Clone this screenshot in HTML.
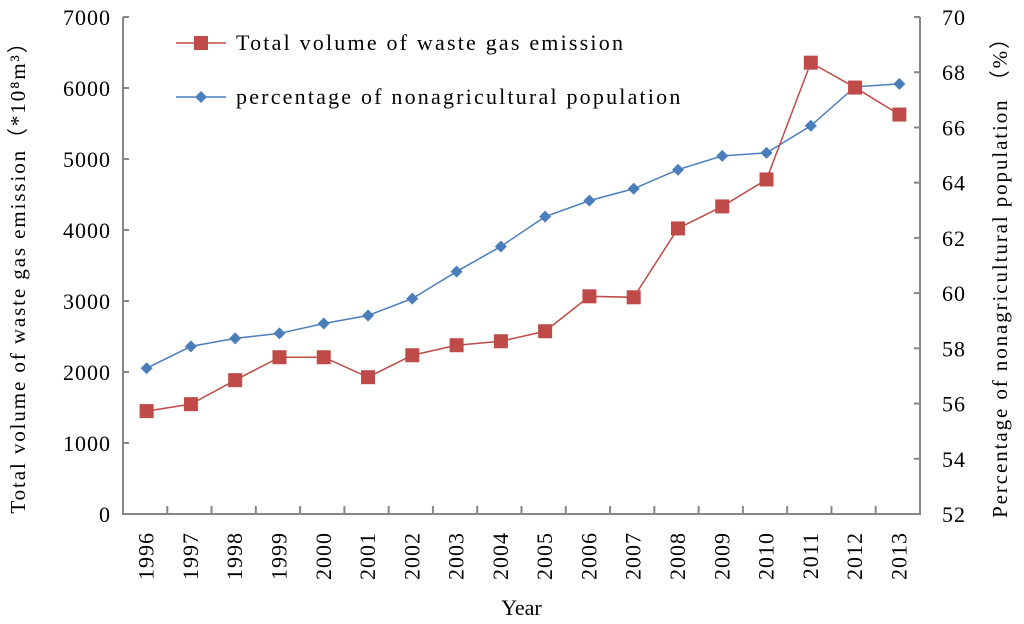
<!DOCTYPE html>
<html><head><meta charset="utf-8"><style>
body{margin:0;background:#fff;}
svg{display:block;font-family:"Liberation Serif",serif;}
</style></head><body>
<svg id="chart" width="1024" height="624"></svg>
<script>
const years=["1996","1997","1998","1999","2000","2001","2002","2003","2004","2005","2006","2007","2008","2009","2010","2011","2012","2013"];
const wasteGas=[1449,1547,1885,2208,2208,1927,2236,2377,2433,2574,3066,3052,4022,4332,4712,6357,6006,5626];
const nonAgPct=[57.28,58.07,58.36,58.54,58.9,59.19,59.8,60.78,61.69,62.77,63.35,63.78,64.47,64.97,65.08,66.06,67.47,67.58];
const leftTicks=[0,1000,2000,3000,4000,5000,6000,7000];
const rightTicks=[52,54,56,58,60,62,64,66,68,70];

const svg=document.getElementById('chart');
const NS='http://www.w3.org/2000/svg';
const X0=123,X1=920,Y0=514,Y1=17;
const bw=(X1-X0)/years.length;
const xc=i=>X0+bw*(i+0.5)+1.5;
const yl=v=>Y0-(v-0)/(7000-0)*(Y0-Y1);
const yr=v=>Y0-(v-52)/(70-52)*(Y0-Y1);
function mk(t,a,txt){const e=document.createElementNS(NS,t);for(const k in a)e.setAttribute(k,a[k]);if(txt!==undefined)e.textContent=txt;svg.appendChild(e);return e;}

let e;
e=mk('path',{d:`M${X0},${Y1}V${Y0}H${X1}V${Y1}`,fill:'none',stroke:'#868686','stroke-width':2});


leftTicks.forEach(v=>{
  e=mk('line',{x1:X0,x2:X0+6,y1:yl(v),y2:yl(v),stroke:'#868686','stroke-width':2});
  
  
  e=mk('text',{x:X0-12,y:yl(v)+8,'text-anchor':'end','font-size':22,'letter-spacing':1},v);
  
  
});
rightTicks.forEach(v=>{
  e=mk('line',{x1:X1-6,x2:X1,y1:yr(v),y2:yr(v),stroke:'#868686','stroke-width':2});
  
  
  e=mk('text',{x:X1+22,y:yr(v)+8,'text-anchor':'start','font-size':22,'letter-spacing':1},v);
  
  
});
years.forEach((y,i)=>{
  if(i>0){e=mk('line',{x1:X0+bw*i,x2:X0+bw*i,y1:Y0,y2:Y0-8,stroke:'#868686','stroke-width':2});
  
  }
  e=mk('text',{x:0,y:0,'text-anchor':'end','font-size':22,'letter-spacing':1,transform:`translate(${xc(i)+7},${532}) rotate(-90)`},y);
  
  
});
e=mk('text',{x:(X0+X1)/2,y:615,'text-anchor':'middle','font-size':22},'Year');


e=mk('text',{x:0,y:0,'text-anchor':'middle','font-size':21,'letter-spacing':1.9,transform:'translate(25,272) rotate(-90)'},'Total volume of waste gas emission（*10⁸m³）');


e=mk('text',{x:0,y:0,'text-anchor':'middle','font-size':21,'letter-spacing':1.9,transform:'translate(1007,272) rotate(-90)'},'Percentage of nonagricultural population （%）');



e=mk('polyline',{points:nonAgPct.map((v,i)=>xc(i)+','+yr(v)).join(' '),fill:'none',stroke:'#4a7ebb','stroke-width':1.5});


nonAgPct.forEach((v,i)=>{const x=xc(i),y=yr(v);
  e=mk('path',{d:`M${x},${y-6}L${x+6},${y}L${x},${y+6}L${x-6},${y}Z`,fill:'#4a7ebb'});
  
  
});
e=mk('polyline',{points:wasteGas.map((v,i)=>xc(i)+','+yl(v)).join(' '),fill:'none',stroke:'#be4b48','stroke-width':1.5});


wasteGas.forEach((v,i)=>{const x=xc(i),y=yl(v);
  e=mk('rect',{x:x-7,y:y-7,width:14,height:14,fill:'#be4b48'});
  
  
});
e=mk('line',{x1:176,x2:226,y1:43,y2:43,stroke:'#be4b48','stroke-width':1.5});


e=mk('rect',{x:194,y:36,width:14,height:14,fill:'#be4b48'});


e=mk('text',{x:236,y:50,'font-size':22,'letter-spacing':2.2},'Total volume of waste gas emission');


e=mk('line',{x1:176,x2:226,y1:97,y2:97,stroke:'#4a7ebb','stroke-width':1.5});


e=mk('path',{d:'M201,91L207,97L201,103L195,97Z',fill:'#4a7ebb'});


e=mk('text',{x:236,y:104,'font-size':22,'letter-spacing':2.2},'percentage of nonagricultural population');


</script>
</body></html>
